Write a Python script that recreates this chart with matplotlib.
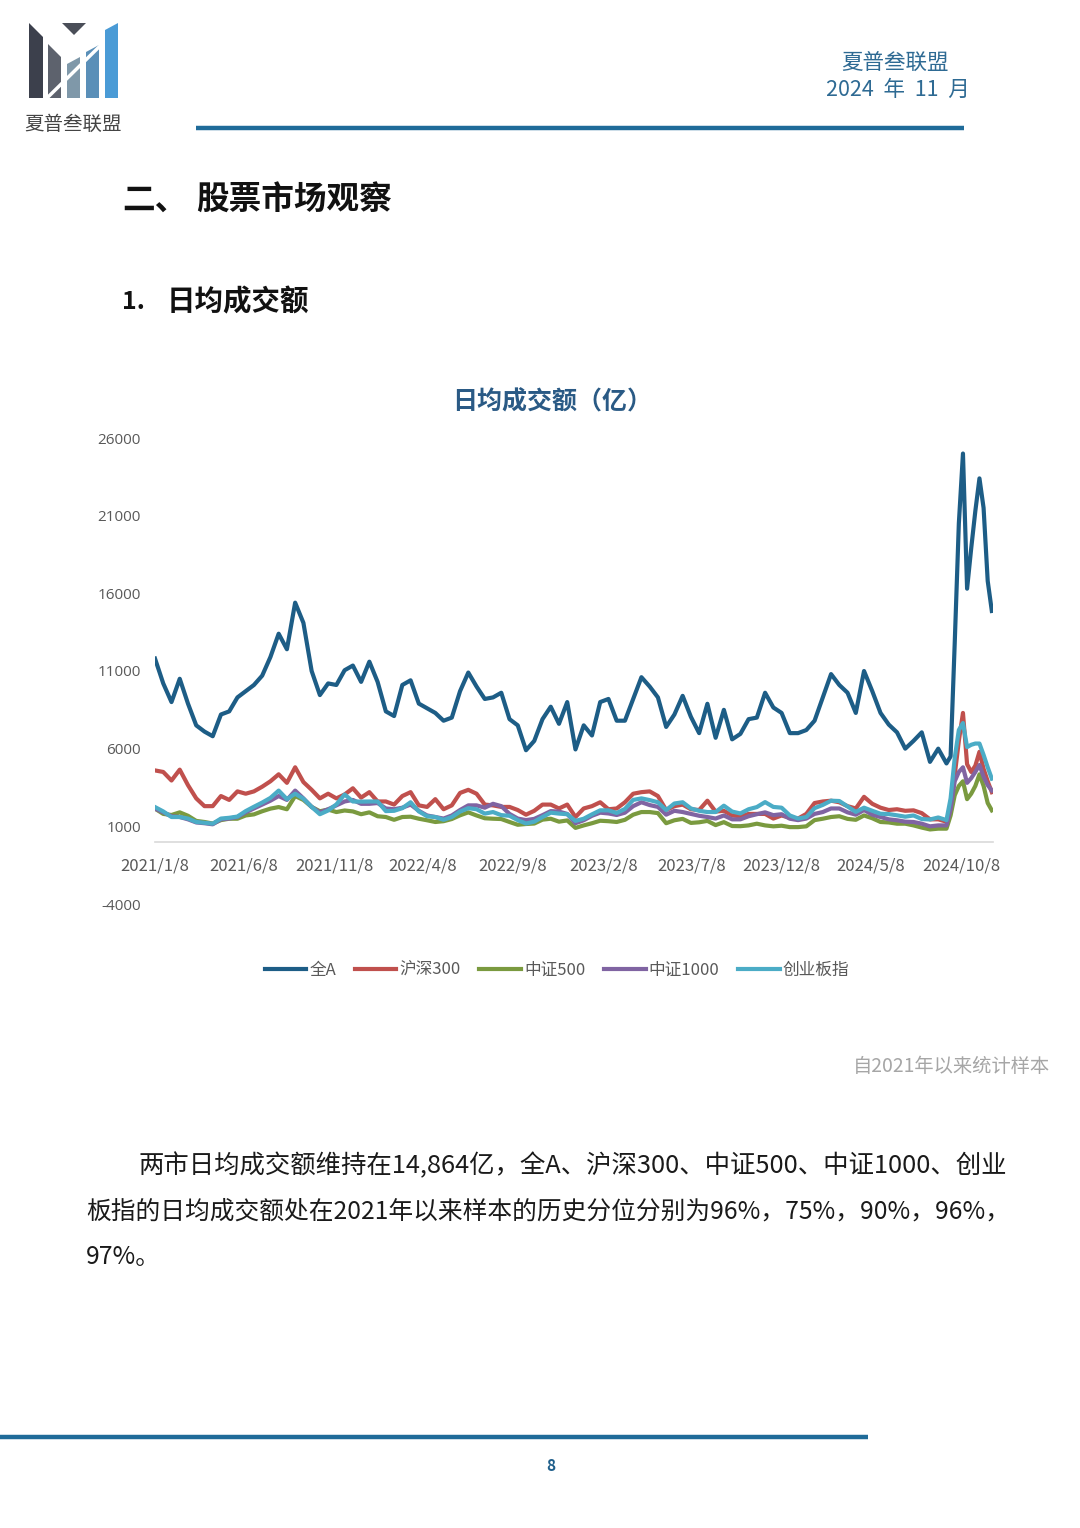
import matplotlib
matplotlib.use("Agg")
import matplotlib.pyplot as plt
from matplotlib.patches import Polygon
from matplotlib.lines import Line2D
import pandas as pd

plt.rcParams['font.family'] = ['Noto Sans CJK SC', 'DejaVu Sans']

# Weekly-average turnover (亿): biweekly samples up to 2024/9/13, weekly afterwards
dates = list(pd.date_range('2021-01-08', periods=97, freq='14D')) + \
    list(pd.date_range('2024-09-20', periods=11, freq='7D'))

quan_a = [
    11800, 10200, 9000, 10500, 8900, 7500, 7100, 6800, 8200, 8400,
    9300, 9700, 10100, 10700, 11900, 13400, 12400, 15400, 14100, 11000,
    9450, 10200, 10100, 11050, 11350, 10300, 11600, 10300, 8400, 8100,
    10100, 10400, 8900, 8600, 8300, 7800, 8000, 9700, 10900, 10000,
    9200, 9300, 9600, 7900, 7500, 5900, 6500, 7900, 8700, 7600,
    9000, 5950, 7500, 6850, 9000, 9200, 7800, 7800, 9200, 10600,
    10000, 9300, 7400, 8200, 9400, 8050, 7000, 8890, 6700, 8500,
    6600, 6950, 7900, 8000, 9600, 8650, 8300, 7000, 7000, 7200,
    7800, 9300, 10800, 10100, 9600, 8300, 11000, 9700, 8300, 7550,
    7050, 6000, 6500, 7050, 5150, 6000, 5050,
    5500, 12800, 20500, 25000, 16300, 18900, 21300, 23400, 21500, 16800, 14864,
]
hs300 = [
    4600, 4500, 3950, 4650, 3650, 2800, 2300, 2300, 2950, 2700,
    3250, 3100, 3250, 3550, 3900, 4350, 3800, 4800, 3850, 3350,
    2800, 3100, 2800, 3050, 3450, 2850, 3200, 2600, 2600, 2400,
    2950, 3200, 2350, 2250, 2750, 2100, 2350, 3150, 3350, 3100,
    2400, 2350, 2250, 2250, 2050, 1750, 2000, 2400, 2400, 2150,
    2400, 1600, 2150, 2300, 2550, 2100, 2150, 2550, 3100, 3200,
    3250, 2950, 2050, 2300, 2400, 2100, 2050, 2650, 1950, 2000,
    1700, 1650, 1800, 1800, 1800, 1500, 1700, 1550, 1500, 1800,
    2500, 2600, 2650, 2550, 2300, 2150, 2900, 2450, 2200, 2050,
    2100, 2000, 2030, 1850, 1450, 1450, 1300,
    2300, 4300, 6500, 8300, 5000, 4500, 4900, 5800, 4700, 3900, 3200,
]
zz500 = [
    2140, 1800, 1730, 1900, 1680, 1350, 1280, 1180, 1400, 1490,
    1490, 1700, 1770, 1970, 2140, 2240, 2100, 2950, 2700, 2250,
    1970, 2080, 1920, 2020, 1960, 1780, 1900, 1650, 1600, 1420,
    1600, 1620, 1490, 1390, 1280, 1330, 1470, 1710, 1900, 1700,
    1520, 1490, 1470, 1280, 1100, 1150, 1180, 1430, 1490, 1300,
    1380, 900, 1060, 1200, 1360, 1330, 1280, 1420, 1750, 1920,
    1920, 1850, 1200, 1390, 1480, 1220, 1260, 1350, 1080, 1270,
    1020, 1010, 1060, 1170, 1060, 1000, 1040, 950, 950, 1000,
    1400, 1490, 1600, 1650, 1480, 1420, 1700, 1520, 1280, 1250,
    1170, 1170, 1060, 920, 800, 850, 850,
    1700, 3000, 3600, 3900, 2750, 3100, 3600, 4350, 3600, 2500, 2030,
]
zz1000 = [
    2140, 1900, 1650, 1600, 1450, 1250, 1200, 1130, 1450, 1500,
    1600, 1900, 2150, 2400, 2650, 2950, 2700, 3300, 2800, 2250,
    1900, 2100, 2350, 2600, 2700, 2450, 2450, 2500, 2150, 2100,
    2200, 2400, 2000, 1700, 1600, 1500, 1700, 2050, 2350, 2350,
    2200, 2450, 2300, 1800, 1500, 1400, 1480, 1720, 1980, 1950,
    1800, 1200, 1390, 1680, 1880, 1830, 1730, 1880, 2300, 2550,
    2370, 2250, 1750, 2000, 1920, 1800, 1680, 1600, 1500, 1700,
    1450, 1450, 1650, 1780, 1900, 1720, 1780, 1490, 1400, 1500,
    1800, 1920, 2150, 2150, 1900, 1750, 2050, 1750, 1600, 1450,
    1390, 1300, 1280, 1170, 1000, 1060, 1060,
    2100, 3900, 4500, 4800, 3800, 4100, 4500, 4950, 4200, 3650, 3310,
]
cyb = [
    2240, 1960, 1600, 1600, 1500, 1280, 1230, 1170, 1500, 1550,
    1630, 1980, 2260, 2530, 2830, 3300, 2750, 3100, 2780, 2250,
    1780, 2020, 2410, 3050, 2600, 2590, 2600, 2600, 1980, 2000,
    2170, 2550, 1960, 1650, 1600, 1420, 1600, 1950, 2170, 2100,
    1820, 1920, 1720, 1680, 1400, 1180, 1300, 1600, 1880, 1820,
    1780, 1350, 1490, 1770, 2030, 2030, 1860, 2120, 2700, 2800,
    2690, 2550, 2050, 2470, 2550, 2150, 2000, 1920, 1920, 2330,
    1950, 1830, 2100, 2240, 2560, 2250, 2200, 1700, 1500, 1600,
    2170, 2380, 2650, 2630, 2280, 1930, 2200, 2000, 1810, 1790,
    1710, 1620, 1700, 1470, 1440, 1570, 1400,
    2800, 5400, 7200, 7650, 6100, 6250, 6330, 6330, 5600, 4800, 4070,
]

series_names = ['全A', '沪深300', '中证500', '中证1000', '创业板指']
series_values = [quan_a, hs300, zz500, zz1000, cyb]
series_colors = ['#1d5d86', '#c0504d', '#7a9a3f', '#8064a2', '#4bacc6']

x_tick_labels = ['2021/1/8', '2021/6/8', '2021/11/8', '2022/4/8', '2022/9/8',
                 '2023/2/8', '2023/7/8', '2023/12/8', '2024/5/8', '2024/10/8']
y_ticks = [-4000, 1000, 6000, 11000, 16000, 21000, 26000]

W, H = 1080, 1528
BLUE = '#1f6b99'


def fx(px):
    return px / W


def fy(py):
    return 1 - py / H


def add_poly(fig, pts, color):
    # Polygon given in page pixel coordinates
    fig.add_artist(Polygon([(fx(a), fy(b)) for a, b in pts], closed=True,
                           transform=fig.transFigure, facecolor=color, edgecolor='none'))


fig = plt.figure(figsize=(W / 100, H / 100), dpi=100)
fig.patch.set_facecolor('white')

# Logo
add_poly(fig, [(29, 23), (43, 37), (43, 98), (29, 98)], '#3c404c')
add_poly(fig, [(48, 44), (61, 57), (61, 98), (48, 98)], '#5d626d')
add_poly(fig, [(62, 23), (86, 23), (74, 35)], '#4a4e58')
add_poly(fig, [(67, 64), (80, 57), (80, 98), (67, 98)], '#7f98a9')
add_poly(fig, [(86, 52), (99, 45), (99, 98), (86, 98)], '#5a8fb8')
add_poly(fig, [(105, 30), (118, 23), (118, 98), (105, 98)], '#4a9bd6')
fig.add_artist(Line2D([fx(45), fx(102)], [fy(100), fy(44)], transform=fig.transFigure,
                      color='white', lw=2.5))
fig.text(fx(73), fy(124), '夏普叁联盟', ha='center', va='center', fontsize=14, color='#444444')

# Header
fig.text(fx(895), fy(63), '夏普叁联盟', ha='center', va='center', fontsize=15.5, color='#2e6a93')
fig.text(fx(898), fy(90), '2024  年  11  月', ha='center', va='center', fontsize=15.5, color='#2e6a93')
fig.add_artist(Line2D([fx(196), fx(964)], [fy(128), fy(128)], transform=fig.transFigure,
                      color=BLUE, lw=3.2, solid_capstyle='butt'))

# Section headings
fig.text(fx(122), fy(200), '二、', ha='left', va='center', fontsize=23.5, fontweight='bold', color='#111111')
fig.text(fx(196), fy(200), '股票市场观察', ha='left', va='center', fontsize=23.5, fontweight='bold', color='#111111')
fig.text(fx(122), fy(302), '1.', ha='left', va='center', fontsize=18, fontweight='bold', color='#111111')
fig.text(fx(167), fy(302), '日均成交额', ha='left', va='center', fontsize=20.5, fontweight='bold', color='#111111')

# Chart
ax = fig.add_axes([fx(155), fy(904), fx(993) - fx(155), fy(438) - fy(904)])
for name, vals, col in zip(series_names, series_values, series_colors):
    ax.plot(dates, vals, color=col, lw=3.0, label=name, solid_joinstyle='round')

ax.set_ylim(-4000, 26000)
ax.set_xlim(pd.Timestamp('2021-01-08'), pd.Timestamp('2024-12-01'))
ax.set_yticks(y_ticks)
ax.set_yticklabels([str(v) for v in y_ticks])
ax.set_xticks(pd.to_datetime(x_tick_labels, format='%Y/%m/%d'))
ax.set_xticklabels(x_tick_labels)
ax.tick_params(axis='both', length=0, labelsize=12, labelcolor='#595959')
ax.tick_params(axis='y', pad=10)
ax.tick_params(axis='x', pad=11)
for lbl in ax.get_xticklabels() + ax.get_yticklabels():
    lbl.set_family(['Open Sans', 'DejaVu Sans'])
for lbl in ax.get_yticklabels():
    lbl.set_fontsize(11)
for s in ['top', 'right', 'left']:
    ax.spines[s].set_visible(False)
ax.spines['bottom'].set_position(('data', 0))
ax.spines['bottom'].set_color('#d9d9d9')
ax.spines['bottom'].set_linewidth(1.2)
ax.set_facecolor('none')

fig.text(fx(552), fy(402), '日均成交额（亿）', ha='center', va='center', fontsize=18,
         fontweight='bold', color='#2a5a85')

fig.legend(*ax.get_legend_handles_labels(), loc='center', bbox_to_anchor=(fx(557), fy(970)),
           ncol=5, frameon=False, fontsize=12, handlelength=2.5, handletextpad=0.2,
           columnspacing=1.1, labelcolor='#595959')

fig.text(fx(1050), fy(1067), '自2021年以来统计样本', ha='right', va='center', fontsize=13.9,
         color='#a6a6a6', style='italic')

# Body paragraph
body = '#1a1a1a'
fig.text(fx(138), fy(1166), '两市日均成交额维持在14,864亿，全A、沪深300、中证500、中证1000、创业',
         ha='left', va='center', fontsize=18.3, color=body)
fig.text(fx(86), fy(1212), '板指的日均成交额处在2021年以来样本的历史分位分别为96%，75%，90%，96%，',
         ha='left', va='center', fontsize=17.8, color=body)
fig.text(fx(86), fy(1257), '97%。', ha='left', va='center', fontsize=17.8, color=body)

# Footer
fig.add_artist(Line2D([0, fx(868)], [fy(1437), fy(1437)], transform=fig.transFigure,
                      color=BLUE, lw=3.2, solid_capstyle='butt'))
fig.text(fx(551), fy(1466), '8', ha='center', va='center', fontsize=11, fontweight='bold',
         style='italic', color='#1f5f8b')

fig.savefig('out.png', dpi=100, facecolor='white')
